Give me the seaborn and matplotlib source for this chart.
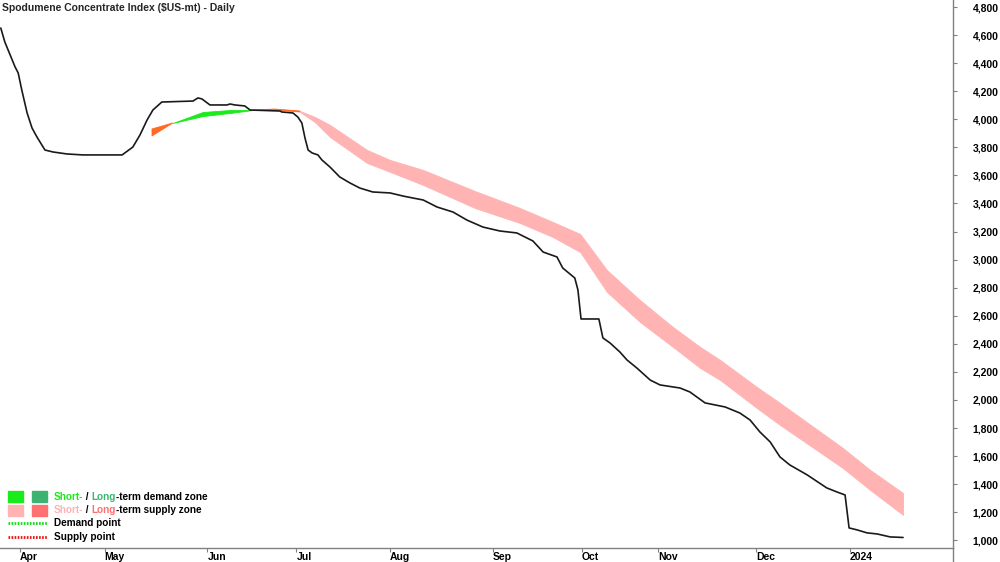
import numpy as np
import seaborn as sns
import matplotlib.pyplot as plt
from matplotlib.patches import Rectangle
from matplotlib.lines import Line2D
from matplotlib.ticker import FuncFormatter

# x axis = trading sessions counted from the first session of April 2023
month_labels = ["Apr", "May", "Jun", "Jul", "Aug", "Sep", "Oct", "Nov", "Dec", "2024"]
month_start = [0, 19, 42, 62, 83, 106, 126, 143, 165, 186]

# --- daily index ($US-mt) ---
price_session = [-4.3, -3.4, -1.1, -0.4, 0.4, 1.6, 2.7, 3.8, 5.6, 7.4, 10.5, 14.1, 22.9, 23.5,
                 25.3, 26.9, 28.5, 29.8, 31.8, 38.8, 39.9, 40.8, 42.6, 46.4, 47.1, 48.2, 50.4,
                 51.6, 58.3, 58.7, 61.2, 62.3, 63.2, 63.9, 64.6, 65.5, 66.8, 67.7, 69.5, 71.7,
                 74.0, 76.2, 79.1, 83.0, 85.9, 88.1, 90.4, 93.5, 97.1, 100.2, 103.8, 107.6,
                 111.4, 115.0, 117.3, 120.4, 121.7, 124.4, 125.1, 125.8, 129.8, 130.7, 132.3,
                 134.5, 136.1, 138.3, 141.3, 143.5, 148.0, 150.2, 153.6, 158.1, 161.4, 163.7,
                 165.9, 168.2, 170.4, 172.6, 176.5, 180.9, 183.2, 185.0, 185.9, 187.7, 189.9,
                 192.2, 195.1, 198.0]
price = [4650, 4551, 4373, 4330, 4209, 4045, 3938, 3874, 3781, 3767, 3753, 3746, 3746, 3760,
         3802, 3888, 3995, 4066, 4123, 4130, 4152, 4145, 4102, 4102, 4109, 4102, 4095,
         4066, 4059, 4052, 4045, 4016, 3974, 3867, 3781, 3760, 3746, 3710, 3660, 3589,
         3546, 3510, 3482, 3475, 3453, 3439, 3425, 3375, 3339, 3282, 3232, 3204,
         3190, 3133, 3054, 3019, 2940, 2869, 2784, 2577, 2577, 2442, 2406,
         2342, 2285, 2228, 2142, 2107, 2085, 2057, 1979, 1950, 1907, 1857,
         1772, 1701, 1594, 1537, 1466, 1373, 1344, 1323, 1088, 1074, 1053,
         1045, 1024, 1020]

# --- short / long term zone edges ---
zone_session = [29.6, 34.3, 41.0, 47.1, 52.2, 57.2, 62.8, 66.1, 69.5, 77.8, 83.0, 90.4, 102.0,
                112.1, 119.5, 125.6, 131.6, 139.0, 146.4, 152.5, 157.0, 165.2, 170.4, 184.5,
                190.6, 198.0]
short_term = [3881, 3974, 4052, 4066, 4066, 4066, 4052, 3981, 3874, 3689, 3625, 3532, 3368,
              3261, 3161, 3054, 2770, 2556, 2378, 2228, 2142, 1943, 1822, 1515, 1359, 1181]
long_term = [3931, 3974, 4023, 4045, 4066, 4073, 4059, 4017, 3960, 3782, 3710, 3639, 3489,
             3368, 3268, 3183, 2926, 2712, 2520, 2378, 2285, 2093, 1979, 1658, 1502, 1337]
supply_start = 62.8

GREEN = "#1aeb1a"
DKGREEN = "#3cb371"
PINK = "#ffb3b3"
SALMON = "#ff7070"
ORANGE = "#ff6a24"
FS = 7.5      # ticks / title
LFS = 7.2     # legend

sns.set_theme(style="white")
plt.rcParams["font.family"] = ["Liberation Sans", "DejaVu Sans"]

fig = plt.figure(figsize=(10, 5.62), dpi=100)
ax = fig.add_axes([0, 14 / 562, 0.953, 548 / 562])

zs = np.array(zone_session)
st = np.array(short_term)
lt = np.array(long_term)
demand = st >= lt
supply_pre = (st <= lt) & (zs <= supply_start)
supply = zs >= supply_start
ax.fill_between(zs, st, lt, where=demand, facecolor=GREEN, edgecolor=GREEN, lw=0.6)
ax.fill_between(zs, st, lt, where=supply_pre, facecolor=ORANGE, edgecolor=ORANGE, lw=0.6)
ax.fill_between(zs, st, lt, where=supply, facecolor=PINK, edgecolor=PINK, lw=0.6)

sns.lineplot(x=price_session, y=price, color="#1a1a1a", lw=1.2, ax=ax,
             estimator=None, sort=False)

ax.set_xlim(-4.48, 209.2)
ax.set_ylim(945, 4850)
ax.set_xlabel("")
ax.set_ylabel("")
ax.grid(False)

ax.yaxis.tick_right()
ax.set_yticks(range(1000, 4801, 200))
ax.yaxis.set_major_formatter(FuncFormatter(lambda v, p: f"{int(v):,}"))
ax.set_xticks(month_start)
ax.set_xticklabels(month_labels, ha="left")
ax.tick_params(axis="x", bottom=True, direction="out", length=3, width=0.8, pad=0,
               color="#808080", labelsize=FS, labelcolor="black")
ax.tick_params(axis="y", right=True, left=False, direction="out", length=3, width=0.8,
               pad=11, color="#808080", labelsize=FS, labelcolor="black")
for lab in ax.get_xticklabels() + ax.get_yticklabels():
    lab.set_fontweight("bold")

for side in ["top", "left"]:
    ax.spines[side].set_visible(False)
for side in ["right", "bottom"]:
    ax.spines[side].set_color("#808080")
    ax.spines[side].set_linewidth(1)
fig.add_artist(Line2D([0.953, 0.953], [0, 14 / 562], transform=fig.transFigure,
                      color="#808080", lw=1))

fig.text(0.002, 1 - 8 / 562, "Spodumene Concentrate Index ($US-mt) - Daily",
         fontsize=FS, fontweight="bold", va="center", ha="left")


# --- legend, bottom left ---
def fxy(px, py):
    return px / 1000, 1 - py / 562


def colored_text(px, py, parts):
    x, y = fxy(px, py)
    prev = fig.text(x, y, parts[0][0], color=parts[0][1], fontsize=LFS,
                    fontweight="bold", va="center", ha="left")
    for s, c in parts[1:]:
        prev = ax.annotate(s, xy=(1, 0), xycoords=prev, va="bottom", ha="left",
                           color=c, fontsize=LFS, fontweight="bold")


for px, col in [(8, GREEN), (32, DKGREEN)]:
    fig.add_artist(Rectangle(fxy(px, 502), 15 / 1000, 11 / 562,
                             transform=fig.transFigure, color=col))
for px, col in [(8, PINK), (32, SALMON)]:
    fig.add_artist(Rectangle(fxy(px, 516), 15 / 1000, 11 / 562,
                             transform=fig.transFigure, color=col))
colored_text(54, 497, [("Short-", GREEN), (" / ", "black"), ("Long", DKGREEN),
                       ("-term demand zone", "black")])
colored_text(54, 510, [("Short-", PINK), (" / ", "black"), ("Long", SALMON),
                       ("-term supply zone", "black")])
for py, col, txt in [(523, "#11dd11", "Demand point"), (537, "#ee1111", "Supply point")]:
    x0, y0 = fxy(8, py)
    x1, _ = fxy(47, py)
    fig.add_artist(Line2D([x0, x1], [y0, y0], transform=fig.transFigure, color=col,
                          lw=2, linestyle=(0, (0.6, 0.5))))
    colored_text(54, py, [(txt, "black")])

fig.savefig("out.png", dpi=100)
